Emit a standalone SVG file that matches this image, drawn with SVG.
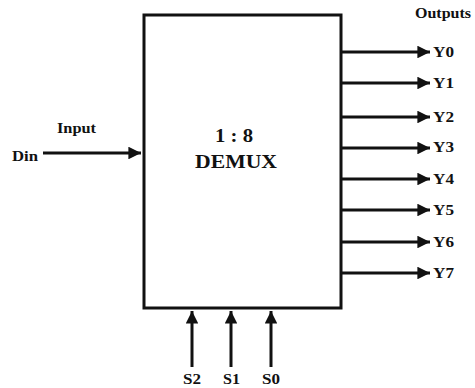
<svg xmlns="http://www.w3.org/2000/svg" width="475" height="388" viewBox="0 0 475 388">
<style>
.ln{stroke:#111;stroke-width:3;fill:none}
.t{font-family:"Liberation Serif","Times New Roman",serif;font-weight:bold;fill:#111}
.s{font-size:14px}
.b{font-size:19px}
</style>
<defs>
<marker id="ah" viewBox="0 0 10 10" refX="10" refY="5" markerWidth="4.2" markerHeight="4.2" orient="auto" markerUnits="strokeWidth">
<path d="M0,0 L10,5 L0,10 z" fill="#111"/>
</marker>
</defs>
<rect width="475" height="388" fill="#fff"/>
<g id="demux">
<rect x="144" y="15" width="197" height="293" class="ln"/>
<text class="t b" x="215" y="142" textLength="38" lengthAdjust="spacingAndGlyphs">1 : 8</text>
<text class="t b" x="195" y="168" textLength="82" lengthAdjust="spacingAndGlyphs">DEMUX</text>
</g>
<g id="labels">
<text class="t s" x="12" y="161" textLength="26" lengthAdjust="spacingAndGlyphs">Din</text>
<text class="t s" x="57" y="133" textLength="39" lengthAdjust="spacingAndGlyphs">Input</text>
<text class="t s" x="415" y="18" textLength="56" lengthAdjust="spacingAndGlyphs">Outputs</text>
<text class="t s" x="433" y="57" textLength="21" lengthAdjust="spacingAndGlyphs">Y0</text>
<text class="t s" x="433" y="88" textLength="21" lengthAdjust="spacingAndGlyphs">Y1</text>
<text class="t s" x="433" y="122" textLength="21" lengthAdjust="spacingAndGlyphs">Y2</text>
<text class="t s" x="433" y="152" textLength="21" lengthAdjust="spacingAndGlyphs">Y3</text>
<text class="t s" x="433" y="184" textLength="21" lengthAdjust="spacingAndGlyphs">Y4</text>
<text class="t s" x="433" y="215" textLength="21" lengthAdjust="spacingAndGlyphs">Y5</text>
<text class="t s" x="433" y="247" textLength="21" lengthAdjust="spacingAndGlyphs">Y6</text>
<text class="t s" x="433" y="278" textLength="21" lengthAdjust="spacingAndGlyphs">Y7</text>
<text class="t s" x="183" y="384" textLength="18" lengthAdjust="spacingAndGlyphs">S2</text>
<text class="t s" x="223" y="384" textLength="17" lengthAdjust="spacingAndGlyphs">S1</text>
<text class="t s" x="262" y="384" textLength="18" lengthAdjust="spacingAndGlyphs">S0</text>
</g>
<g id="connectors">
<line class="ln" x1="43" y1="153" x2="141" y2="153" marker-end="url(#ah)"/>
<line class="ln" x1="341" y1="52" x2="430" y2="52" marker-end="url(#ah)"/>
<line class="ln" x1="341" y1="83" x2="430" y2="83" marker-end="url(#ah)"/>
<line class="ln" x1="341" y1="117" x2="430" y2="117" marker-end="url(#ah)"/>
<line class="ln" x1="341" y1="148" x2="430" y2="148" marker-end="url(#ah)"/>
<line class="ln" x1="341" y1="179" x2="430" y2="179" marker-end="url(#ah)"/>
<line class="ln" x1="341" y1="210" x2="430" y2="210" marker-end="url(#ah)"/>
<line class="ln" x1="341" y1="242" x2="430" y2="242" marker-end="url(#ah)"/>
<line class="ln" x1="341" y1="273" x2="430" y2="273" marker-end="url(#ah)"/>
<line class="ln" x1="192" y1="367" x2="192" y2="311" marker-end="url(#ah)"/>
<line class="ln" x1="231" y1="367" x2="231" y2="311" marker-end="url(#ah)"/>
<line class="ln" x1="271" y1="367" x2="271" y2="311" marker-end="url(#ah)"/>
</g>
</svg>
